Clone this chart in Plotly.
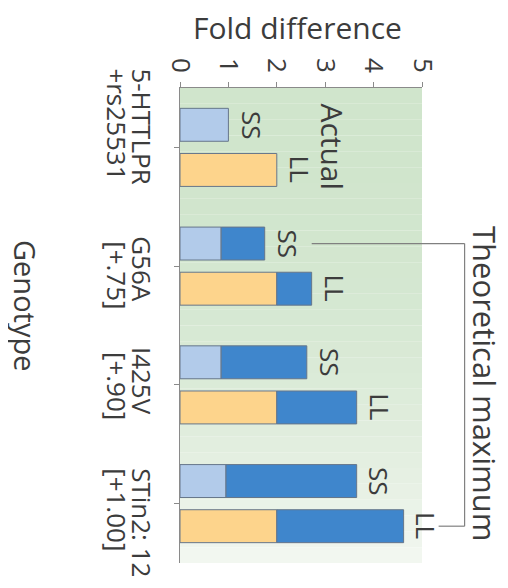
import numpy as np
import plotly.graph_objects as go

categories = ["5-HTTLPR +rs25531", "G56A [+.75]", "I425V [+.90]", "STin2: 12 [+1.00]"]
label_line1 = ["5-HTTLPR", "G56A", "I425V", "STin2: 12"]
label_line2 = ["+rs25531", "[+.75]", "[+.90]", "[+1.00]"]
ss_base = [1.0, 0.85, 0.85, 0.95]
ss_total = [None, 1.75, 2.62, 3.65]
ll_base = [2.0, 2.0, 2.0, 2.0]
ll_total = [None, 2.72, 3.65, 4.62]
tick_vals = [0, 1, 2, 3, 4, 5]

FONT = "Open Sans"
TXT = "#3c3c3c"
LIGHT_BLUE = "#b2cbea"
BLUE = "#3f86cc"
ORANGE = "#fdd48c"
OUTLINE = "#66768a"

PLOT_W, PLOT_H = 242, 475
XMAX = 5.0

ss_t = np.array([np.nan if v is None else v for v in ss_total])
ll_t = np.array([np.nan if v is None else v for v in ll_total])
ss_ext = ss_t - np.array(ss_base)
ll_ext = ll_t - np.array(ll_base)

fig = go.Figure()
line = dict(color=OUTLINE, width=1)
fig.add_trace(go.Bar(y=categories, x=ss_base, orientation="h", offsetgroup="SS",
                     marker=dict(color=LIGHT_BLUE, line=line), hoverinfo="skip"))
fig.add_trace(go.Bar(y=categories, x=ss_ext, base=ss_base, orientation="h", offsetgroup="SS",
                     marker=dict(color=BLUE, line=line), hoverinfo="skip"))
fig.add_trace(go.Bar(y=categories, x=ll_base, orientation="h", offsetgroup="LL",
                     marker=dict(color=ORANGE, line=line), hoverinfo="skip"))
fig.add_trace(go.Bar(y=categories, x=ll_ext, base=ll_base, orientation="h", offsetgroup="LL",
                     marker=dict(color=BLUE, line=line), hoverinfo="skip"))

annotations = []
# SS / LL labels at bar ends
for i, c in enumerate(categories):
    ss_end = ss_base[i] if ss_total[i] is None else ss_total[i]
    ll_end = ll_base[i] if ll_total[i] is None else ll_total[i]
    annotations.append(dict(x=ss_end, y=c, text="SS", showarrow=False, textangle=90,
                            xanchor="left", yanchor="middle", xshift=3, yshift=22,
                            font=dict(family=FONT, size=26, color=TXT)))
    annotations.append(dict(x=ll_end, y=c, text="LL", showarrow=False, textangle=90,
                            xanchor="left", yanchor="middle", xshift=3, yshift=-22,
                            font=dict(family=FONT, size=26, color=TXT)))

# category labels (two rotated lines, starting near top of each group)
label_top = [81, 32, 40, 38]
label_top2 = [81, 27, 35, 38]
for i, c in enumerate(categories):
    annotations.append(dict(xref="x domain", x=0, y=c, text=label_line1[i], showarrow=False,
                            textangle=90, xanchor="right", yanchor="top", xshift=-18,
                            yshift=label_top[i], font=dict(family=FONT, size=26, color=TXT)))
    annotations.append(dict(xref="x domain", x=0, y=c, text=label_line2[i], showarrow=False,
                            textangle=90, xanchor="right", yanchor="top", xshift=-43,
                            yshift=label_top2[i], font=dict(family=FONT, size=26, color=TXT)))

annotations.append(dict(xref="paper", yref="paper", x=-154 / PLOT_W, y=(563 - 306) / PLOT_H,
                        text="Genotype", showarrow=False, xanchor="center", yanchor="middle",
                        textangle=90, font=dict(family=FONT, size=29, color=TXT)))
annotations.append(dict(xref="x", yref="y domain", x=2.42, y=1, yshift=61, text="Fold difference",
                        xanchor="center", yanchor="middle",
                        showarrow=False, font=dict(family=FONT, size=30, color=TXT)))
annotations.append(dict(xref="x", x=3.16, y=categories[0], text="Actual", showarrow=False,
                        xanchor="center", yanchor="middle",
                        textangle=90, font=dict(family=FONT, size=30, color=TXT)))
annotations.append(dict(xref="paper", yref="paper", x=(485 - 180) / PLOT_W, y=(563 - 383) / PLOT_H,
                        text="Theoretical maximum", xanchor="center", yanchor="middle",
                        showarrow=False, textangle=90, font=dict(family=FONT, size=31, color=TXT)))

shapes = []
# green background gradient
n = 30
top = np.array([0xd0, 0xe5, 0xcc])
bot = np.array([0xf2, 0xf7, 0xf0])
for k in range(n):
    t = k / (n - 1)
    col = top + (bot - top) * (t ** 2.2)
    shapes.append(dict(type="rect", xref="x domain", yref="y domain", x0=0, x1=1,
                       y0=1 - (k + 1) / n, y1=1 - k / n, layer="below", line=dict(width=0),
                       fillcolor="rgb(%d,%d,%d)" % tuple(col.astype(int))))

# bracket for theoretical maximum
bl = dict(color="#808080", width=1.2)
x_top_start = ss_total[1] / XMAX + 47 / PLOT_W
x_bot_start = ll_total[3] / XMAX + 35 / PLOT_W
x_vert = ll_total[3] / XMAX + 61 / PLOT_W
shapes.append(dict(type="line", xref="paper", yref="y", x0=x_top_start, x1=x_vert,
                   y0=0.81, y1=0.81, line=bl))
shapes.append(dict(type="line", xref="paper", yref="y", x0=x_bot_start, x1=x_vert,
                   y0=3.19, y1=3.19, line=bl))
shapes.append(dict(type="line", xref="paper", yref="y", x0=x_vert, x1=x_vert,
                   y0=0.81, y1=3.19, line=bl))

fig.update_layout(
    width=500, height=572,
    margin=dict(l=172, r=500 - 172 - PLOT_W, t=80, b=572 - 80 - PLOT_H),
    barmode="group", bargap=0.24, bargroupgap=0.27,
    showlegend=False,
    paper_bgcolor="white", plot_bgcolor="rgba(0,0,0,0)",
    annotations=annotations, shapes=shapes,
    font=dict(family=FONT, color=TXT),
)
fig.update_xaxes(side="top", range=[0, XMAX], tickvals=tick_vals, tickangle=90,
                 showgrid=False, zeroline=False, showline=True, linecolor="#8a8a8a",
                 ticks="outside", ticklen=5, tickcolor="#8a8a8a",
                 tickfont=dict(family=FONT, size=26, color=TXT))
fig.update_yaxes(autorange="reversed", showticklabels=False, showgrid=False, showline=True,
                 linecolor="#8a8a8a", ticks="outside", ticklen=5, tickcolor="#8a8a8a")

fig.write_html("out.html")
